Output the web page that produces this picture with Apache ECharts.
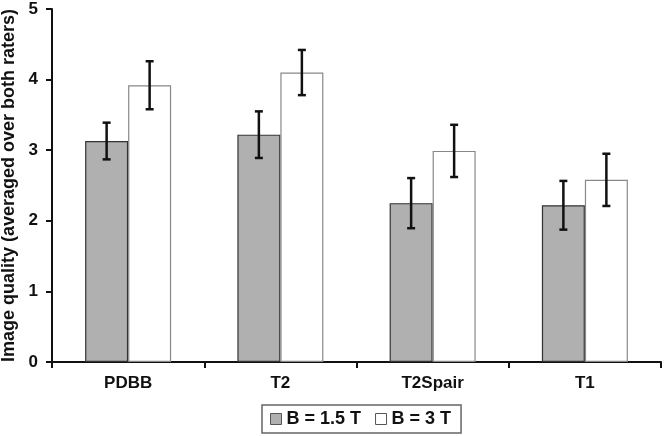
<!DOCTYPE html>
<html><head><meta charset="utf-8">
<script src="https://cdn.jsdelivr.net/npm/echarts@6/dist/echarts.min.js"></script>
<style>html,body{margin:0;padding:0;background:#fff}#c{width:664px;height:436px}</style>
</head><body><div id="c"></div>
<script>
const categories = ['PDBB', 'T2', 'T2Spair', 'T1'];
const seriesNames = ['B = 1.5 T', 'B = 3 T'];
const values15 = [3.13, 3.22, 2.25, 2.22];
const values3 = [3.92, 4.10, 2.99, 2.58];
const err15 = [0.26, 0.33, 0.355, 0.345];
const err3 = [0.34, 0.32, 0.37, 0.37];
const yTicks = [0, 1, 2, 3, 4, 5];

const FONT = '"Liberation Sans", Arial, sans-serif';
const chart = echarts.init(document.getElementById('c'), null, {renderer: 'canvas'});

function errSeries(vals, errs, offset) {
  return {
    type: 'custom',
    z: 10,
    silent: true,
    data: vals.map((v, i) => [i, v - errs[i], v + errs[i]]),
    renderItem: function (params, api) {
      const lo = api.coord([api.value(0), api.value(1)]);
      const hi = api.coord([api.value(0), api.value(2)]);
      const x = lo[0] + offset;
      const cap = 4;
      const style = {stroke: '#111', lineWidth: 2.5, fill: null};
      return {
        type: 'group',
        children: [
          {type: 'line', shape: {x1: x, y1: lo[1], x2: x, y2: hi[1]}, style: style},
          {type: 'line', shape: {x1: x - cap, y1: lo[1], x2: x + cap, y2: lo[1]}, style: style},
          {type: 'line', shape: {x1: x - cap, y1: hi[1], x2: x + cap, y2: hi[1]}, style: style}
        ]
      };
    }
  };
}

chart.setOption({
  animation: false,
  backgroundColor: '#fff',
  grid: {left: 52, right: 3, top: 9, bottom: 74, containLabel: false, outerBoundsMode: 'none'},
  legend: {
    data: [
      {name: seriesNames[0], itemStyle: {color: '#b0b0b0', borderColor: '#555', borderWidth: 1}},
      {name: seriesNames[1], itemStyle: {color: '#fff', borderColor: '#555', borderWidth: 1}}
    ],
    left: 262, top: 405,
    itemWidth: 11, itemHeight: 11, itemGap: 14,
    icon: 'rect',
    borderColor: '#666', borderWidth: 1.5, borderRadius: 0,
    padding: [5, 10, 5, 8],
    textStyle: {fontFamily: FONT, fontWeight: 'bold', fontSize: 18, color: '#111'}
  },
  xAxis: {
    type: 'category',
    data: categories,
    axisLine: {lineStyle: {color: '#111', width: 2}},
    axisTick: {show: true, alignWithLabel: false, inside: false, length: 6, lineStyle: {color: '#111', width: 2}},
    axisLabel: {fontFamily: FONT, fontWeight: 'bold', fontSize: 17, color: '#111', margin: 13}
  },
  yAxis: {
    type: 'value',
    min: 0, max: 5, interval: 1,
    name: 'Image quality (averaged over both raters)',
    nameLocation: 'middle',
    nameGap: 34,
    nameTextStyle: {fontFamily: FONT, fontWeight: 'bold', fontSize: 18, color: '#111'},
    splitLine: {show: false},
    axisLine: {show: true, lineStyle: {color: '#111', width: 2}},
    axisTick: {show: true, length: 6, lineStyle: {color: '#111', width: 2}},
    axisLabel: {fontFamily: FONT, fontWeight: 'bold', fontSize: 17, color: '#111', margin: 14,
      formatter: v => yTicks.includes(v) ? String(v) : ''}
  },
  series: [
    {name: seriesNames[0], type: 'bar', data: values15, barWidth: 43, barGap: '0%',
      itemStyle: {color: '#b0b0b0', borderColor: '#333', borderWidth: 1.2}},
    {name: seriesNames[1], type: 'bar', data: values3, barWidth: 43, barGap: '0%',
      itemStyle: {color: '#fff', borderColor: '#888', borderWidth: 1.2}},
    errSeries(values15, err15, -21.5),
    errSeries(values3, err3, 21.5)
  ]
});
</script></body></html>
